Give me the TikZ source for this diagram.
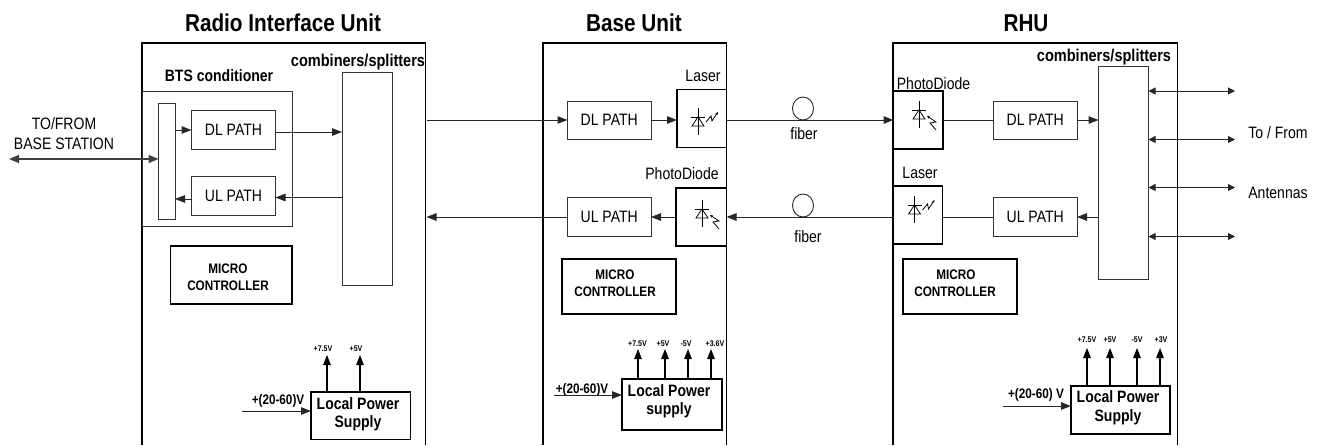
\documentclass[tikz,border=0pt]{standalone}
\usepackage{fontspec}
\setmainfont[FakeStretch=0.85]{Liberation Sans}
\usetikzlibrary{arrows.meta,shapes.geometric}
\newcommand{\fs}[1]{\fontsize{#1}{#1}\selectfont}
\tikzset{
  x=1pt,y=-1pt,
  thinbox/.style={draw=black!80,line width=1pt,inner sep=0pt,outer sep=0pt,font=\fs{16.5},fill=white},
  thickbox/.style={draw=black,line width=1.4pt,inner sep=0pt,outer sep=0pt,fill=white},
  frameline/.style={draw=black,line width=1.4pt},
  title/.style={font=\fs{24.4}\bfseries,inner sep=0pt},
  boldlab/.style={font=\fs{16.5}\bfseries,inner sep=0pt,align=center},
  microlab/.style={font=\fs{13.8}\bfseries,inner sep=0pt,align=center},
  inlab/.style={font=\fs{13.8}\bfseries,inner sep=0pt},
  vlab/.style={font=\fs{8.3}\bfseries,inner sep=0pt},
  plainlab/.style={font=\fs{16.5},inner sep=0pt,align=center},
  arr/.style={draw=black!85,line width=1pt,-{Triangle[length=10pt,width=7.5pt]}},
  dbl/.style={draw=black!85,line width=1pt,{Triangle[length=7pt,width=7pt]}-{Triangle[length=7pt,width=7pt]}},
  dblbig/.style={draw=black!75,line width=1.4pt,{Triangle[length=10pt,width=8pt]}-{Triangle[length=10pt,width=8pt]}},
  powarr/.style={draw=black,line width=1.2pt,-{Triangle[length=10pt,width=7.5pt]}},
  plain/.style={draw=black!85,line width=1pt},
  icon/.style={draw=black,line width=0.8pt},
  ztip/.style={-{Stealth[length=3pt,width=2.5pt]}},
  fibre/.style={draw=black!85,line width=0.9pt,ellipse,minimum width=21pt,minimum height=23pt,inner sep=0pt}
}
% style, name, x1, y1, x2, y2, text
\newcommand{\bx}[7]{%
  \pgfmathsetmacro\bcx{(#3+#5)/2}\pgfmathsetmacro\bcy{(#4+#6)/2}%
  \pgfmathsetmacro\bw{#5-#3}\pgfmathsetmacro\bh{#6-#4}%
  \node[#1,minimum width=\bw pt,minimum height=\bh pt] (#2) at (\bcx,\bcy) {#7};}
% diode: x of the axis, y of the bar
\newcommand{\diode}[2]{%
  \draw[icon] (#1,#2-9) -- (#1,#2+18);
  \draw[icon] (#1-7,#2) -- (#1+7,#2);
  \draw[icon] (#1,#2) -- (#1-6,#2+9) -- (#1+6,#2+9) -- cycle;}
\newcommand{\laseric}[2]{\diode{#1}{#2}
  \draw[icon,ztip] (#1+8,#2+5) -- (#1+13,#2-1) -- (#1+14,#2+4) -- (#1+20,#2-5);}
\newcommand{\photoic}[2]{\diode{#1}{#2}
  \draw[icon,ztip] (#1+17,#2+20) -- (#1+11,#2+13) -- (#1+17,#2+12) -- (#1+8,#2+6);}
\begin{document}
\begin{tikzpicture}
\useasboundingbox (0,0) rectangle (1319,445);
% ---- frames
\coordinate (riuBL) at (142,445); \coordinate (riuTR) at (425.5,43); \coordinate (riuBR) at (425.5,445);
\coordinate (baseBL) at (543,445); \coordinate (baseTR) at (726.5,43); \coordinate (baseBR) at (726.5,445);
\coordinate (rhuBL) at (893,445); \coordinate (rhuTR) at (1177.5,43); \coordinate (rhuBR) at (1177.5,445);
\draw[frameline] (riuBL) |- (riuTR) -- (riuBR);
\draw[frameline] (baseBL) |- (baseTR) -- (baseBR);
\draw[frameline] (rhuBL) |- (rhuTR) -- (rhuBR);
% ---- titles
\node[title] (t1) at (283,23) {Radio Interface Unit};
\node[title] (t2) at (634,23) {Base Unit};
\node[title] (t3) at (1026,23) {RHU};
% ---- Radio Interface Unit
\bx{thinbox}{bts}{142}{91}{292}{226.5}{}
\bx{thinbox}{bar}{158.5}{103}{175}{219}{}
\bx{thinbox}{rdl}{191.5}{110.5}{275.5}{149}{DL PATH}
\bx{thinbox}{rul}{191.5}{176.5}{275.5}{215}{UL PATH}
\bx{thinbox}{rcomb}{342}{72}{392}{285}{}
\bx{thickbox}{rmicro}{170.5}{246}{292}{304}{}
\bx{thickbox}{rlps}{311}{392}{410.5}{439.5}{}
\node[boldlab] (lbts) at (219,75.5) {BTS conditioner};
\node[boldlab,font=\fs{17.1}\bfseries] (lrc) at (358,62) {combiners/splitters};
\node[microlab] (lrm1) at (228,269) {MICRO};
\node[microlab] (lrm2) at (228,286) {CONTROLLER};
\node[boldlab] (lrp1) at (358,404) {Local Power};
\node[boldlab] (lrp2) at (358,423) {Supply};
\node[plainlab] (lts1) at (64,123.5) {TO/FROM};
\node[plainlab] (lts2) at (64,143.5) {BASE STATION};
\node[inlab] (lri) at (278,401) {+(20-60)V};
\node[vlab] (lrv1) at (323,349) {+7.5V};
\node[vlab] (lrv2) at (356,349) {+5V};
\coordinate (bs) at (9,159);
\draw[dblbig] (bs) -- (bar.west|-bs);
\draw[arr] (bar.east|-0,130) -- (rdl.west|-0,130);
\draw[arr] (rdl.east|-0,132) -- (rcomb.west|-0,132);
\draw[arr] (rcomb.west|-0,197.5) -- (rul.east|-0,197.5);
\draw[arr] (rul.west|-0,199) -- (bar.east|-0,199);
\coordinate (rin) at (242,411);
\draw[arr] (rin) -- (rlps.west|-rin);
\coordinate (rv1) at (327,355); \coordinate (rv2) at (360,355);
\draw[powarr] (rv1|-rlps.north) -- (rv1);
\draw[powarr] (rv2|-rlps.north) -- (rv2);
% ---- Base Unit
\bx{thinbox}{bdl}{567.5}{101}{651}{139.5}{DL PATH}
\bx{thinbox}{bul}{567.5}{197.5}{651}{236}{UL PATH}
\bx{thickbox}{blaser}{677}{89.5}{726.5}{147.5}{}
\bx{thickbox}{bpd}{676}{188}{726.5}{246}{}
\bx{thickbox,line width=1.2pt}{bmicro}{562}{259}{676}{314}{}
\bx{thickbox}{blps}{622}{379}{722}{430}{}
\laseric{698}{117}
\photoic{702}{209}
\node[plainlab] (lbl) at (703,76) {Laser};
\node[plainlab] (lbpd) at (682,173.5) {PhotoDiode};
\node[microlab] (lbm1) at (615,275) {MICRO};
\node[microlab] (lbm2) at (615,292) {CONTROLLER};
\node[boldlab] (lbp1) at (669,391) {Local Power};
\node[boldlab] (lbp2) at (669,410) {supply};
\node[inlab] (lbi) at (582,390) {+(20-60)V};
\node[vlab] (lbv1) at (637.5,344) {+7.5V};
\node[vlab] (lbv2) at (663,344) {+5V};
\node[vlab] (lbv3) at (686,344) {-5V};
\node[vlab] (lbv4) at (715,344) {+3.6V};
\coordinate (rf1) at (426.5,120); \coordinate (rf2) at (426.5,217);
\draw[arr] (rf1) -- (bdl.west|-rf1);
\draw[arr] (bdl.east|-rf1) -- (blaser.west|-rf1);
\draw[arr] (bpd.west|-rf2) -- (bul.east|-rf2);
\draw[arr] (bul.west|-rf2) -- (rf2);
\coordinate (bin) at (554,395);
\draw[arr] (bin) -- (blps.west|-bin);
\foreach \n/\xx in {a/638,b/665,c/688,d/711}{
  \coordinate (bv\n) at (\xx,349);
  \draw[powarr] (bv\n|-blps.north) -- (bv\n);
}
% ---- RHU
\bx{thickbox}{hpd}{893.5}{91}{943}{149}{}
\bx{thickbox}{hlaser}{893.5}{186}{942.5}{244}{}
\bx{thinbox}{hdl}{993.5}{101}{1077}{139.5}{DL PATH}
\bx{thinbox}{hul}{993.5}{197.5}{1077}{236}{UL PATH}
\bx{thinbox}{hcomb}{1098.5}{66}{1148.5}{279}{}
\bx{thickbox,line width=1.2pt}{hmicro}{903}{259}{1017}{314}{}
\bx{thickbox}{hlps}{1071}{386}{1170}{434}{}
\photoic{919}{110}
\laseric{914.5}{205}
\node[plainlab] (lhpd) at (933.5,84) {PhotoDiode};
\node[plainlab] (lhl) at (920,173) {Laser};
\node[boldlab,font=\fs{17.1}\bfseries] (lhc) at (1104,57) {combiners/splitters};
\node[microlab] (lhm1) at (956,275) {MICRO};
\node[microlab] (lhm2) at (955,292) {CONTROLLER};
\node[boldlab] (lhp1) at (1118,397) {Local Power};
\node[boldlab] (lhp2) at (1118,417) {Supply};
\node[inlab] (lhi) at (1036,395) {+(20-60) V};
\node[vlab] (lhv1) at (1087,340) {+7.5V};
\node[vlab] (lhv2) at (1110,340) {+5V};
\node[vlab] (lhv3) at (1137,340) {-5V};
\node[vlab] (lhv4) at (1161,340) {+3V};
\node[plainlab] (lhto) at (1278,133) {To / From};
\node[plainlab] (lhan) at (1278,193) {Antennas};
\draw[plain] (hpd.east|-rf1) -- (hdl.west|-rf1);
\draw[arr] (hdl.east|-rf1) -- (hcomb.west|-rf1);
\draw[arr] (hcomb.west|-rf2) -- (hul.east|-rf2);
\draw[plain] (hul.west|-rf2) -- (hlaser.east|-rf2);
\foreach \n/\yy in {a/91,b/139.5,c/187.5,d/236.5}{
  \coordinate (ant\n) at (1235,\yy);
  \draw[dbl] (hcomb.east|-ant\n) -- (ant\n);
}
\coordinate (hin) at (1003,406);
\draw[arr] (hin) -- (hlps.west|-hin);
\foreach \n/\xx in {a/1087,b/1110,c/1137,d/1160}{
  \coordinate (hv\n) at (\xx,348);
  \draw[powarr] (hv\n|-hlps.north) -- (hv\n);
}
% ---- fibres
\draw[arr] (blaser.east|-rf1) -- (hpd.west|-rf1);
\draw[arr] (hlaser.west|-rf2) -- (bpd.east|-rf2);
\node[fibre] (f1) at (803,108.5) {};
\node[fibre] (f2) at (803,205.5) {};
\node[plainlab] (lf1) at (804,133.5) {fiber};
\node[plainlab] (lf2) at (808,236.5) {fiber};
\end{tikzpicture}
\end{document}
